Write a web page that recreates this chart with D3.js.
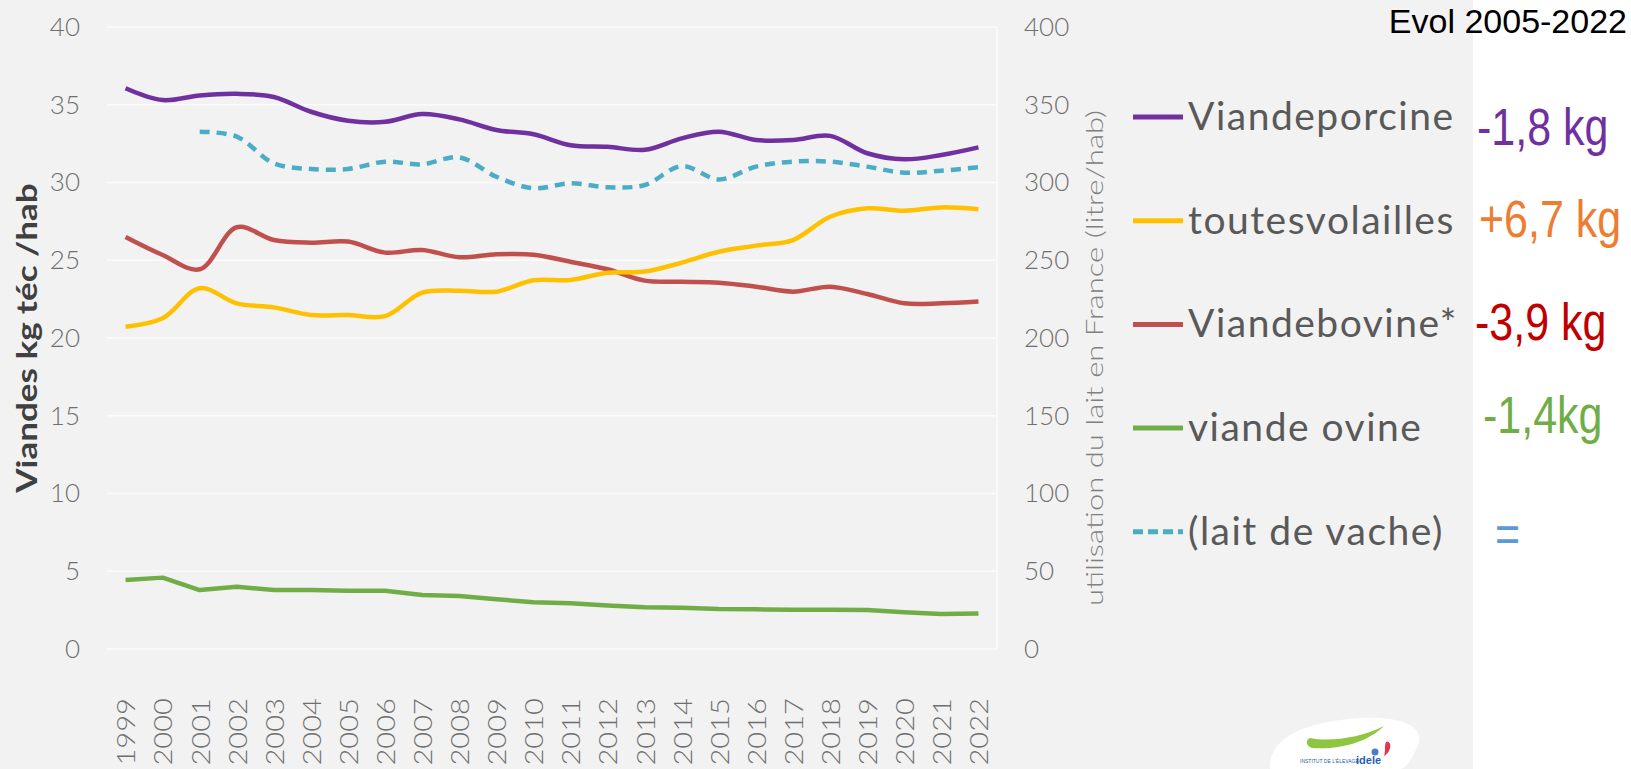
<!DOCTYPE html>
<html>
<head>
<meta charset="utf-8">
<script src="https://cdn.jsdelivr.net/npm/d3@7"></script>
<style>
  html, body { margin: 0; padding: 0; background: #ffffff; }
  svg { display: block; }
</style>
</head>
<body>
<div id="chart"></div>
<script>
// ---------- DATA ----------
const years = ["1999","2000","2001","2002","2003","2004","2005","2006","2007","2008","2009","2010",
               "2011","2012","2013","2014","2015","2016","2017","2018","2019","2020","2021","2022"];
const porcine   = [36.06,35.3,35.6,35.7,35.5,34.55,33.97,33.9,34.4,34.06,33.38,33.1,
                   32.4,32.3,32.1,32.84,33.27,32.73,32.73,33.0,31.88,31.49,31.77,32.26];
const volailles = [20.73,21.27,23.2,22.23,21.97,21.48,21.48,21.41,22.92,23.04,22.98,23.71,
                   23.73,24.2,24.27,24.85,25.55,25.94,26.3,27.8,28.34,28.19,28.4,28.28];
const bovine    = [26.5,25.34,24.42,27.12,26.3,26.13,26.2,25.49,25.66,25.19,25.38,25.36,
                   24.9,24.42,23.69,23.62,23.56,23.3,22.98,23.3,22.83,22.23,22.23,22.34];
const ovine     = [4.44,4.59,3.79,4.0,3.79,3.79,3.75,3.75,3.47,3.41,3.2,3.01,
                   2.94,2.79,2.68,2.66,2.57,2.55,2.53,2.53,2.51,2.36,2.25,2.29];
const laitVache = [null,null,332.7,329.5,312.3,308.7,308.7,313.4,311.7,316.2,303.7,296.3,
                   299.5,296.9,298.4,310.6,302,310.2,313.4,313.4,310.2,306.3,307.6,309.8];

const leftTicks  = [0,5,10,15,20,25,30,35,40];
const rightTicks = [0,50,100,150,200,250,300,350,400];

const seriesNames  = ["Viandeporcine","toutesvolailles","Viandebovine*","viande ovine","(lait de vache)"];
const seriesColors = ["#7030a0","#ffc000","#c0504d","#70ad47","#4bacc6"];
const evolLabels   = ["-1,8 kg","+6,7 kg","-3,9 kg","-1,4kg","="];
const evolColors   = ["#7030a0","#ed7d31","#c00000","#70ad47","#5b9bd5"];
const evolTitle    = "Evol 2005-2022";
const leftTitle    = "Viandes kg téc /hab";
const rightTitle   = "utilisation du lait en France (litre/hab)";

// ---------- LAYOUT ----------
const W = 1631, H = 769;
const plot = {left: 107, right: 997, top: 27, bottom: 649};
const SANS = "Lato, 'Open Sans', sans-serif";
const ARIAL = "'Liberation Sans', Arimo, Arial, sans-serif";

const svg = d3.select("#chart").append("svg").attr("width", W).attr("height", H)
  .attr("font-family", SANS);

// grey panel
svg.append("rect").attr("x", 0).attr("y", 0).attr("width", 1473).attr("height", H).attr("fill", "#f2f2f2");

const x  = d3.scalePoint().domain(years).range([plot.left, plot.right]).padding(0.5);
const yL = d3.scaleLinear().domain([0, 40]).range([plot.bottom, plot.top]);
const yR = d3.scaleLinear().domain([0, 400]).range([plot.bottom, plot.top]);

// gridlines
svg.append("g").selectAll("line").data(leftTicks).join("line")
  .attr("x1", plot.left).attr("x2", plot.right)
  .attr("y1", d => yL(d)).attr("y2", d => yL(d))
  .attr("stroke", "#fbfbfb").attr("stroke-width", 1.5);
svg.append("line").attr("x1", plot.right).attr("x2", plot.right)
  .attr("y1", plot.top).attr("y2", plot.bottom)
  .attr("stroke", "#fbfbfb").attr("stroke-width", 1.5);

const tickColor = "#6f6f6f";

// left axis
const gL = svg.append("g").attr("transform", `translate(${plot.left},0)`)
  .call(d3.axisLeft(yL).tickValues(leftTicks).tickSize(0).tickPadding(27));
gL.select(".domain").remove();
gL.selectAll("text").attr("font-size", 26).attr("fill", tickColor)
  .attr("font-family", SANS).attr("font-weight", 300);

// right axis
const gR = svg.append("g").attr("transform", `translate(${plot.right},0)`)
  .call(d3.axisRight(yR).tickValues(rightTicks).tickSize(0).tickPadding(27));
gR.select(".domain").remove();
gR.selectAll("text").attr("font-size", 26).attr("fill", tickColor)
  .attr("font-family", SANS).attr("font-weight", 300);

// bottom axis (rotated year labels)
const gB = svg.append("g").attr("transform", `translate(0,${plot.bottom})`)
  .call(d3.axisBottom(x).tickSize(0));
gB.select(".domain").remove();
gB.selectAll("text")
  .attr("font-size", 26).attr("fill", tickColor).attr("font-family", SANS).attr("font-weight", 300)
  .attr("text-anchor", "end")
  .attr("y", 0).attr("dy", "0.36em")
  .attr("x", -49 / 1.12)
  .attr("transform", "rotate(-90) scale(1.12,1)");

// axis titles
svg.append("text")
  .attr("transform", "translate(27,338) rotate(-90) scale(1.25,1)")
  .attr("text-anchor", "middle").attr("dy", "0.36em")
  .attr("font-size", 28).attr("font-weight", 700).attr("fill", "#404040")
  .text(leftTitle);

svg.append("text")
  .attr("transform", "translate(1095,358) rotate(-90) scale(1.35,1)")
  .attr("text-anchor", "middle").attr("dy", "0.36em")
  .attr("font-size", 23).attr("font-weight", 300).attr("fill", "#808080")
  .text(rightTitle);

// lines
const smooth = d3.curveCatmullRom.alpha(0.5);
function lineFor(scale, curve) {
  return d3.line()
    .defined(d => d != null)
    .x((d, i) => x(years[i]))
    .y(d => scale(d))
    .curve(curve);
}
const series = [
  {values: porcine,   scale: yL, curve: smooth,          dash: null},
  {values: volailles, scale: yL, curve: smooth,          dash: null},
  {values: bovine,    scale: yL, curve: smooth,          dash: null},
  {values: ovine,     scale: yL, curve: d3.curveLinear,  dash: null},
  {values: laitVache, scale: yR, curve: smooth,          dash: "10,7"}
];
const drawOrder = [4, 3, 2, 1, 0];
drawOrder.forEach(k => {
  const s = series[k];
  svg.append("path")
    .attr("d", lineFor(s.scale, s.curve)(s.values))
    .attr("fill", "none")
    .attr("stroke", seriesColors[k])
    .attr("stroke-width", 4.5)
    .attr("stroke-linejoin", "round")
    .attr("stroke-dasharray", s.dash);
});

// legend
const legY0 = 117, legStep = 103.7;
const leg = svg.append("g");
seriesNames.forEach((name, k) => {
  const yy = legY0 + k * legStep;
  leg.append("line")
    .attr("x1", 1133).attr("x2", 1183).attr("y1", yy).attr("y2", yy)
    .attr("stroke", seriesColors[k]).attr("stroke-width", 5)
    .attr("stroke-dasharray", k === 4 ? "10,5" : null);
  leg.append("text")
    .attr("x", 1188).attr("y", yy + 13)
    .attr("font-family", SANS)
    .attr("font-size", 39).attr("font-weight", 400).attr("fill", "#595959")
    .attr("letter-spacing", 1.5)
    .text(name);
});

// evolution annotations
const ann = svg.append("g").attr("font-family", ARIAL);
ann.append("text")
  .attr("x", 1627).attr("y", 33)
  .attr("text-anchor", "end")
  .attr("font-family", ARIAL)
  .attr("font-size", 34).attr("fill", "#000000")
  .text(evolTitle);
const evolPos = [[1477,145],[1479,237],[1475,340],[1483,433],[1495,552]];
evolLabels.forEach((lab, k) => {
  ann.append("text")
    .attr("transform", `translate(${evolPos[k][0]},${evolPos[k][1]}) scale(1,1.2)`)
    .attr("font-family", ARIAL)
    .attr("font-size", 43).attr("fill", evolColors[k])
    .text(lab);
});

// logo (decorative)
const logo = svg.append("g");
logo.append("path")
  .attr("d", "M1270,769 C1268,740 1300,722 1360,718 C1405,716 1425,728 1418,745 C1412,760 1405,769 1400,769 Z")
  .attr("fill", "#ffffff");
logo.append("path")
  .attr("d", "M1310,738 C1330,742 1360,738 1384,726 C1368,742 1340,750 1312,748 C1306,746 1305,740 1310,738 Z")
  .attr("fill", "#8dc63f");
logo.append("path")
  .attr("d", "M1386,742 C1392,740 1392,752 1384,756 C1386,750 1384,746 1386,742 Z")
  .attr("fill", "#e5344a");
logo.append("circle").attr("cx", 1375).attr("cy", 752).attr("r", 3.5).attr("fill", "#4a7fc1");
logo.append("text").attr("x", 1300).attr("y", 763).attr("font-size", 5).attr("fill", "#1f5fa8")
  .attr("font-family", ARIAL).text("INSTITUT DE L'ÉLEVAGE");
logo.append("text").attr("x", 1356).attr("y", 764).attr("font-size", 11).attr("font-weight", 700)
  .attr("font-family", ARIAL).attr("fill", "#1f5fa8").text("idele");
</script>
</body>
</html>
